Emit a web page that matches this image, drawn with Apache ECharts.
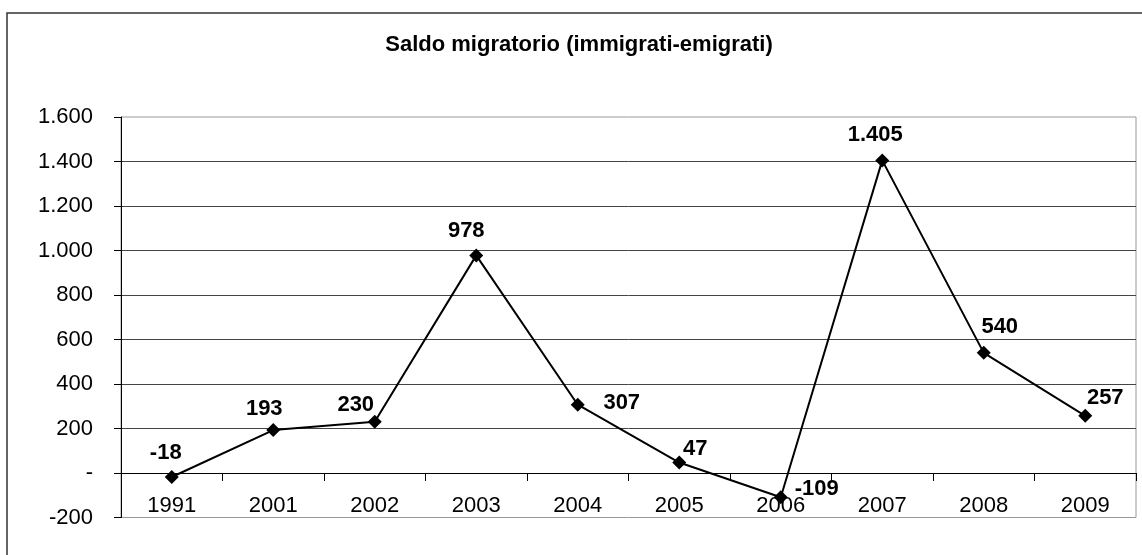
<!DOCTYPE html>
<html>
<head>
<meta charset="utf-8">
<style>
  html, body { margin: 0; padding: 0; background: #fff; }
  #chart { width: 1142px; height: 555px; }
</style>
<script src="https://cdn.jsdelivr.net/npm/echarts@6/dist/echarts.min.js"></script>
</head>
<body>
<div id="chart"></div>
<script>
// Net migration balance (immigrants minus emigrants) by year
const years = ['1991', '2001', '2002', '2003', '2004', '2005', '2006', '2007', '2008', '2009'];
const saldo = [-18, 193, 230, 978, 307, 47, -109, 1405, 540, 257];

// Value axis range
const yMin = -200;
const yMax = 1600;
const yStep = 200;

// Per-point nudges of the value labels (pixels, relative to the marker)
const labelOffsets = [
  [-6, -24], [-9, -21], [-19, -17], [-10, -24], [44, -2],
  [16, -14], [36, -8], [-7, -25], [16, -26], [20, -18]
];

const FONT = '"Liberation Sans", Arial, sans-serif';

// Italian-style number: dot as thousands separator, dash for zero
function fmt(v) {
  if (v === 0) return '-';
  const s = String(Math.abs(v)).replace(/\B(?=(\d{3})+(?!\d))/g, '.');
  return (v < 0 ? '-' : '') + s;
}

const chart = echarts.init(document.getElementById('chart'), null, { renderer: 'canvas' });

chart.setOption({
  animation: false,
  backgroundColor: '#fff',
  graphic: [
    {
      type: 'rect',
      shape: { x: 7, y: 13, width: 1300, height: 700 },
      style: { fill: 'none', stroke: '#333', lineWidth: 1.5 },
      z: 100
    },
    {
      type: 'text',
      x: 579,
      y: 45,
      style: {
        text: 'Saldo migratorio (immigrati-emigrati)',
        font: 'bold 22px ' + FONT,
        fill: '#000',
        align: 'center',
        verticalAlign: 'middle'
      }
    }
  ],
  grid: {
    left: 121,
    right: 6,
    top: 117,
    bottom: 37.5,
    show: true,
    borderColor: '#999',
    borderWidth: 1,
    containLabel: false
  },
  xAxis: {
    type: 'category',
    data: years,
    boundaryGap: true,
    axisLine: { onZero: true, lineStyle: { color: '#000', width: 1 } },
    axisTick: { show: true, length: 8, alignWithLabel: false, lineStyle: { color: '#000' } },
    axisLabel: { color: '#000', fontSize: 22, fontFamily: FONT, margin: -23, interval: 0 },
    splitLine: { show: false }
  },
  yAxis: {
    type: 'value',
    min: yMin,
    max: yMax,
    interval: yStep,
    axisLine: { show: true, lineStyle: { color: '#000', width: 1 } },
    axisTick: { show: true, length: 7, lineStyle: { color: '#000' } },
    axisLabel: { color: '#000', fontSize: 22, fontFamily: FONT, margin: 28, formatter: fmt },
    splitLine: { show: true, showMinLine: false, showMaxLine: false, lineStyle: { color: '#444', width: 1 } }
  },
  series: [{
    type: 'line',
    data: saldo.map((v, i) => ({
      value: v,
      label: { offset: labelOffsets[i] }
    })),
    symbol: 'diamond',
    symbolSize: 14,
    itemStyle: { color: '#000' },
    lineStyle: { color: '#000', width: 2 },
    label: {
      show: true,
      position: 'inside',
      align: 'center',
      verticalAlign: 'middle',
      color: '#000',
      fontSize: 22,
      fontWeight: 'bold',
      fontFamily: FONT,
      formatter: p => fmt(p.value)
    },
    z: 10
  }]
});
</script>
</body>
</html>
